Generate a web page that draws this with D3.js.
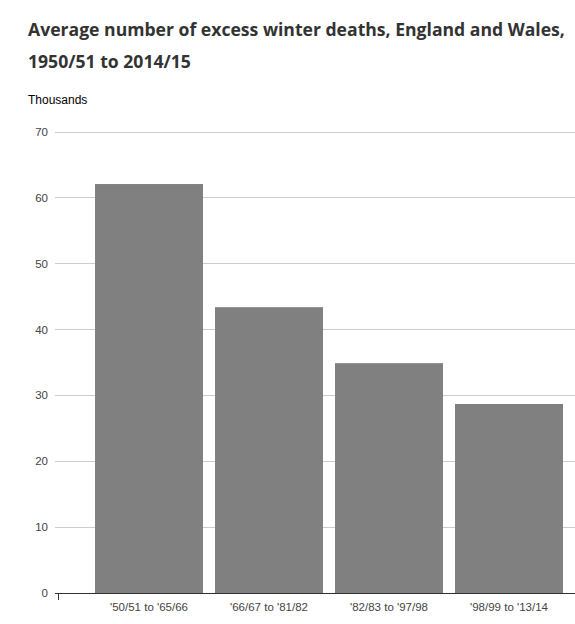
<!DOCTYPE html>
<html><head><meta charset="utf-8">
<script src="https://cdn.jsdelivr.net/npm/d3@7"></script>
<style>body{margin:0;background:#fff}</style></head>
<body><svg id="c" width="575" height="624"></svg>
<script>
const categories = ["'50/51 to '65/66","'66/67 to '81/82","'82/83 to '97/98","'98/99 to '13/14"];
const values = [62.1, 43.4, 34.9, 28.7];
const yTicks = [0,10,20,30,40,50,60,70];

const svg = d3.select("#c");
const font = "'Open Sans', sans-serif";
svg.append("text").attr("x",28).attr("y",36).attr("font-family",font).attr("font-weight","bold")
  .attr("font-size",17.6).attr("fill","#333").text("Average number of excess winter deaths, England and Wales,");
svg.append("text").attr("x",28).attr("y",68).attr("font-family",font).attr("font-weight","bold")
  .attr("font-size",17.6).attr("fill","#333").text("1950/51 to 2014/15");
svg.append("text").attr("x",28).attr("y",104).attr("font-family","Arial, 'Liberation Sans', sans-serif")
  .attr("font-size",12).attr("fill","#000").text("Thousands");

const y = d3.scaleLinear().domain([0,70]).range([593,132]);
const x = d3.scaleBand().domain(categories).range([89,569]).paddingInner(0.1).paddingOuter(0.05);

const g = svg.append("g").attr("font-family","Arial, 'Liberation Sans', sans-serif");
yTicks.forEach(t=>{
  g.append("line").attr("x1",55).attr("x2",575).attr("y1",y(t)).attr("y2",y(t))
   .attr("stroke", t===0? "#333":"#ccc").attr("stroke-width",1).attr("shape-rendering","crispEdges");
  g.append("text").attr("x",48).attr("y",y(t)+4).attr("text-anchor","end").attr("font-size",11.5)
   .attr("fill","#444").text(t);
});
g.selectAll("rect").data(values).join("rect")
  .attr("x",(d,i)=>x(categories[i])).attr("width",x.bandwidth())
  .attr("y",d=>y(d)).attr("height",d=>y(0)-y(d)).attr("fill","#808080");
g.append("line").attr("x1",58.5).attr("x2",58.5).attr("y1",593).attr("y2",600).attr("stroke","#333");
categories.forEach(c=>{
  g.append("text").attr("x",x(c)+x.bandwidth()/2).attr("y",611).attr("text-anchor","middle")
   .attr("font-size",11.5).attr("fill","#444").text(c);
});
</script></body></html>
